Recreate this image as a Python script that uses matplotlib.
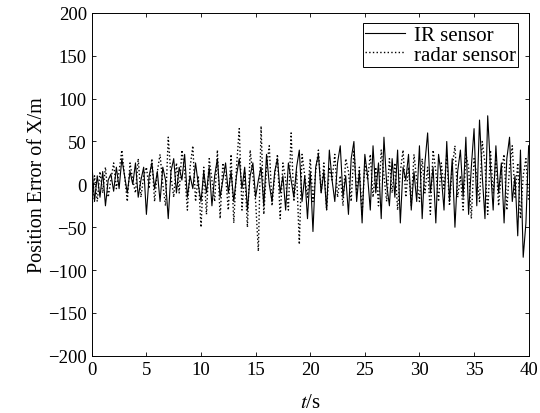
import numpy as np
import matplotlib
matplotlib.use('Agg')
import matplotlib.pyplot as plt

# values every 0.25 s
ir = [25, -20, 10, -15, 15, -25, 5, 12, -8, 20, -5,
      30, 10, -10, 15, 0, 25, -15, 5, 20, -35,
      10, 25, -5, 15, -20, 20, 5, -40, 15, 30,
      -10, 20, 5, 35, -15, 10, -5, 25, 0, -20,
      15, -10, 20, -25, 10, 30, -15, 5, 25, -10,
      15, -20, 10, 30, -5, 20, -30, 10, 25, -15,
      5, 20, -25, 35, 0, -20, 15, 30, -10, 10,
      -30, 25, 5, -15, 20, 40, -20, 10, -40, 15,
      -55, 20, 35, -10, 15, -30, 40, 5, -20, 25,
      45, -15, 10, -35, 30, 50, -20, 15, -45, 35,
      10, -30, 45, -10, 25, -40, 55, 0, -25, 30,
      -15, 40, -45, 20, 5, 35, -30, 15, -20, 45,
      -40, 25, 60, -10, 20, -45, 35, 10, -30, 50,
      -20, 30, -50, 15, 40, -15, 55, -35, 20, 65,
      -25, 75, 10, -40, 80, 20, -30, 45, -10, 25,
      -45, 30, 55, -20, 10, -60, 40, -85, -45, 45]

radar = [-30, 10, -20, 15, -10, 20, -15, 5, 25, -5, 15,
         40, 10, -20, 25, 5, -10, 30, -15, 10, 20,
         -5, 30, -20, 15, 35, 0, -25, 55, 10, -15,
         25, -10, 40, 15, -30, 20, 45, -20, 10, -50,
         20, -35, 30, 5, -20, 40, -40, 25, 10, -30,
         35, -45, 20, 65, -30, 15, -50, 40, 10, -20,
         -78, 68, -35, 20, 45, -25, 10, 35, -40, 25,
         5, -30, 60, -20, 15, -70, 35, 10, -15, 30,
         -20, 15, 40, -10, 25, -30, 20, 5, 35, -15,
         10, -25, 30, 15, -20, 40, -10, 20, -35, 25,
         5, 35, -15, 20, -25, 40, 10, -20, 30, -10,
         25, -30, 15, 40, -15, 20, -25, 35, 5, -20,
         30, -10, 20, -35, 40, 15, -20, 25, -5, 35,
         -25, 20, 45, -15, 10, -30, 35, 20, -40, 30,
         10, -20, 50, 25, -35, 40, -10, 30, -25, 15,
         35, -30, 20, 45, -15, 25, -40, 10, 30, -20]

t = np.linspace(0, 40, len(ir))

plt.rcParams['font.family'] = ['Liberation Serif', 'DejaVu Serif']
plt.rcParams['mathtext.fontset'] = 'stix'

fig = plt.figure(figsize=(5.4, 4.14), dpi=100)
ax = fig.add_axes([0.170, 0.138, 0.809, 0.8285])

ax.plot(t, ir, color='black', lw=0.8, label='IR sensor')
ax.plot(t, radar, color='black', lw=1.0, ls=':', label='radar sensor')

ax.set_xlim(0, 40)
ax.set_ylim(-200, 200)
ax.set_xticks(np.arange(0, 41, 5))
ax.set_yticks(np.arange(-200, 201, 50))
ax.tick_params(direction='in', top=True, right=True, labelsize=13.5, length=3, width=0.6)
for s in ax.spines.values():
    s.set_linewidth(0.7)

ax.set_xlabel('$t$/s', fontsize=15, labelpad=11)
ax.set_ylabel('Position Error of X/m', fontsize=14.5, labelpad=1)

leg = ax.legend(loc='upper right', fontsize=15, fancybox=False, framealpha=1,
                edgecolor='black', borderaxespad=0.5, handlelength=1.9,
                handletextpad=0.45, borderpad=0.1, labelspacing=0.0)
leg.get_frame().set_linewidth(0.7)

fig.savefig('out.png', dpi=100)
